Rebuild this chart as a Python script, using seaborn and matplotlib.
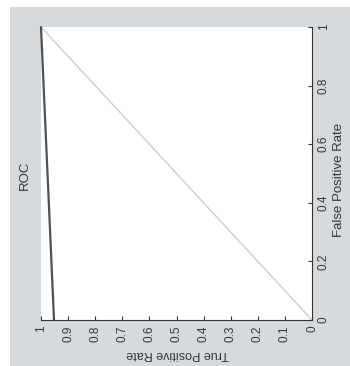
import numpy as np
import matplotlib
matplotlib.use("Agg")
import matplotlib.pyplot as plt
from matplotlib.patches import Rectangle
from matplotlib.ticker import FormatStrFormatter
import seaborn as sns

# ROC curve points (figure is shown rotated 90 degrees)
fpr = [0.0, 1.0]
tpr = [0.952, 1.0]
chance = [0.0, 1.0]
tpr_ticks = [0, 0.1, 0.2, 0.3, 0.4, 0.5, 0.6, 0.7, 0.8, 0.9, 1]
fpr_ticks = [0, 0.2, 0.4, 0.6, 0.8, 1]

sns.set_style("white")
plt.rcParams['font.family'] = ['Liberation Sans', 'DejaVu Sans']

W, H = 350, 366
fig = plt.figure(figsize=(W / 100, H / 100), dpi=100)
fig.patch.set_facecolor("white")
# gray backdrop, leaving a white strip top and left
fig.patches.append(Rectangle((10 / W, 0), 1, 1 - 7 / H, transform=fig.transFigure,
                             facecolor="#d6dadd", edgecolor="none", zorder=-10))

ax = fig.add_axes([41 / W, 46 / H, 271 / W, 293 / H])
ax.set_facecolor("white")

sns.lineplot(x=chance, y=chance, ax=ax, color="#cfcfcf", linewidth=1.0,
             estimator=None, sort=False)
sns.lineplot(x=tpr, y=fpr, ax=ax, color="#505050", linewidth=1.6,
             estimator=None, sort=False, clip_on=False)

ax.set_xlim(1, 0)
ax.set_ylim(0, 1)
ax.xaxis.tick_bottom()
ax.yaxis.tick_right()
ax.set_xticks(tpr_ticks)
ax.set_yticks(fpr_ticks)
ax.xaxis.set_major_formatter(FormatStrFormatter('%g'))
ax.yaxis.set_major_formatter(FormatStrFormatter('%g'))

for side in ["top", "left"]:
    ax.spines[side].set_visible(False)
for side in ["right", "bottom"]:
    ax.spines[side].set_visible(True)
    ax.spines[side].set_color("#333333")
    ax.spines[side].set_linewidth(0.8)

ax.tick_params(axis="both", direction="in", length=3, width=0.8, color="#333333",
               labelsize=8.5, labelcolor="#333333", pad=4)
ax.tick_params(axis="x", bottom=True, labelrotation=90)
ax.tick_params(axis="y", right=True, left=False, labelrotation=90)
for lab in ax.get_xticklabels():
    lab.set_va("top")
    lab.set_ha("center")
for lab in ax.get_yticklabels():
    lab.set_va("center")
    lab.set_ha("left")

fig.text(178 / W, 1 - 354 / H, "True Positive Rate", rotation=180, ha="center",
         va="center", fontsize=9, color="#333333")
fig.text(339 / W, 1 - 180 / H, "False Positive Rate", rotation=90, ha="center",
         va="center", fontsize=9.5, color="#333333")
fig.text(25 / W, 1 - 175 / H, "ROC", rotation=90, ha="center", va="center",
         fontsize=9.5, color="#333333")

fig.savefig("out.png", dpi=100)
